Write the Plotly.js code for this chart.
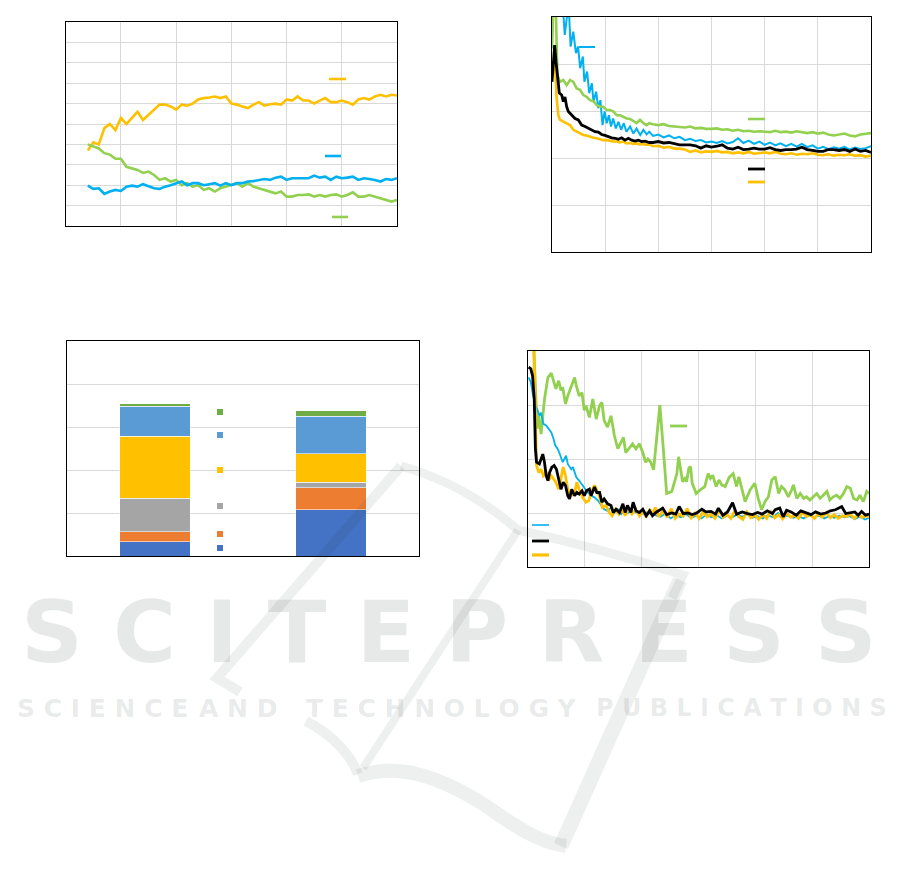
<!DOCTYPE html>
<html>
<head>
<meta charset="utf-8">
<script src="https://cdn.plot.ly/plotly-3.0.1.min.js"></script>
<style>html,body{margin:0;padding:0;background:#fff;}#chart{width:901px;height:892px;}</style>
</head>
<body>
<div id="chart"></div>
<script>
// ---------------- DATA ----------------
// Chart 1 (top-left): three series, sampled from x = 4 to 60
const c1Yellow = [3.7,4.1,4.0,4.8,5.0,4.7,5.3,5.0,5.3,5.6,5.2,5.45,5.7,5.95,5.95,5.86,5.7,5.95,5.9,6.0,6.2,6.27,6.3,6.35,6.27,6.35,6.0,5.95,5.86,5.78,5.95,6.07,5.9,5.97,6.0,5.95,6.2,6.15,6.35,6.15,6.15,6.0,6.15,6.27,6.07,6.07,6.15,6.07,5.95,6.2,6.27,6.2,6.35,6.43,6.35,6.43,6.4];
const c1Green = [4.0,3.9,3.8,3.57,3.5,3.3,3.3,2.9,2.83,2.75,2.6,2.67,2.5,2.26,2.34,2.18,2.26,2.0,2.1,1.93,2.0,1.77,1.85,1.69,1.85,1.93,2.0,2.1,1.93,2.1,1.93,1.85,1.77,1.69,1.6,1.69,1.44,1.44,1.52,1.52,1.55,1.44,1.52,1.44,1.52,1.55,1.44,1.52,1.65,1.44,1.44,1.52,1.44,1.39,1.28,1.2,1.28];
const c1Blue = [1.98,1.82,1.85,1.57,1.69,1.77,1.72,1.93,1.98,1.93,2.05,1.93,1.85,1.82,1.93,2.0,2.1,2.18,2.0,2.1,2.1,2.0,2.05,2.1,1.98,2.1,2.0,2.1,2.1,2.18,2.2,2.26,2.3,2.26,2.37,2.42,2.26,2.34,2.34,2.37,2.34,2.47,2.37,2.42,2.26,2.42,2.34,2.37,2.42,2.26,2.34,2.3,2.26,2.18,2.3,2.26,2.34];

// Chart 2 (top-right)
const c2TailX = [19,20,21,22,23,24,25,26,27,28,29,30,31,32,33,34,35,36,37,38,39,40,41,42,43,44,45,46,47,48,49,50,51,52,53,54,55,56,57,58,59,60];
const c2BlueHeadX = [0,0.2,2.0,2.4,2.8,3.2,3.5,4.0,4.5,4.9,5.3,5.8,6.1,6.6,7.0,7.5,7.8,8.3,8.7,9.1,9.5,9.9,10.3,10.7,11.1,11.5,12.0,12.5,13.0,13.5,14.0,14.7,15.3,15.9,16.6,17.2,17.8,18.3];
const c2BlueHeadY = [4.48,5.3,5.3,4.62,5.0,5.1,4.37,4.69,4.23,4.37,3.91,4.16,3.62,3.84,3.38,3.59,3.2,3.41,3.06,3.23,2.7,2.99,2.74,2.91,2.67,2.84,2.63,2.77,2.6,2.74,2.56,2.67,2.52,2.63,2.49,2.6,2.5,2.56];
const c2BlueTailY = [2.47,2.5,2.44,2.48,2.42,2.45,2.38,2.41,2.36,2.38,2.33,2.35,2.32,2.36,2.31,2.34,2.42,2.32,2.37,2.3,2.35,2.28,2.33,2.27,2.31,2.25,2.3,2.24,2.3,2.23,2.27,2.2,2.24,2.19,2.23,2.2,2.24,2.18,2.22,2.19,2.21,2.25];
const c2GreenHeadX = [0,0.25,0.7,1.0,1.5,2.13,2.76,3.39,4.01,4.64,5.27,5.89,6.52,7.15,7.77,8.4,9.03,9.65,10.28,10.91,11.53,12.16,12.79,13.42,14.04,14.67,15.3,15.92,16.55,17.18,17.81,18.3];
const c2GreenHeadY = [4.33,5.3,5.3,3.77,3.62,3.66,3.55,3.66,3.62,3.48,3.45,3.34,3.3,3.23,3.21,3.13,3.09,3.09,3.02,3.02,2.99,2.91,2.91,2.88,2.84,2.83,2.79,2.74,2.81,2.74,2.7,2.74];
const c2GreenTailY = [2.72,2.7,2.72,2.68,2.67,2.66,2.65,2.67,2.63,2.64,2.62,2.62,2.63,2.6,2.61,2.58,2.6,2.57,2.58,2.56,2.57,2.56,2.55,2.58,2.55,2.56,2.54,2.57,2.55,2.53,2.55,2.52,2.54,2.5,2.48,2.5,2.52,2.48,2.46,2.5,2.52,2.53];
const c2BlackHeadX = [0,0.25,0.5,0.75,1.0,1.38,1.82,2.13,2.44,2.76,3.07,3.7,4.33,4.95,5.58,6.21,6.83,7.46,8.09,8.72,9.34,9.97,10.6,11.22,11.85,12.48,13.1,13.73,14.36,14.98,15.61,16.24,16.86,17.49,18.3];
const c2BlackHeadY = [3.62,3.98,4.4,4.05,3.77,3.38,3.34,3.2,3.3,3.09,2.99,2.91,2.84,2.81,2.7,2.67,2.63,2.6,2.56,2.55,2.5,2.48,2.45,2.43,2.42,2.4,2.43,2.38,2.42,2.38,2.36,2.38,2.35,2.36,2.33];
const c2BlackTailY = [2.33,2.35,2.32,2.33,2.3,2.28,2.28,2.28,2.26,2.21,2.26,2.23,2.25,2.28,2.21,2.19,2.23,2.18,2.19,2.21,2.19,2.19,2.22,2.18,2.16,2.18,2.18,2.19,2.23,2.18,2.16,2.14,2.14,2.18,2.18,2.16,2.18,2.14,2.19,2.14,2.16,2.12];
const c2YellowHeadX = [0,0.25,0.5,0.88,1.19,1.5,2.13,2.76,3.39,4.01,4.64,5.27,5.89,6.52,7.15,7.77,8.4,9.03,9.65,10.28,10.91,11.53,12.16,12.79,13.42,14.04,14.67,15.3,15.92,16.55,17.18,17.81,18.3];
const c2YellowHeadY = [3.84,3.98,4.15,3.27,2.91,2.81,2.77,2.74,2.7,2.6,2.56,2.52,2.49,2.48,2.45,2.43,2.42,2.4,2.38,2.38,2.36,2.35,2.35,2.33,2.35,2.31,2.32,2.3,2.31,2.29,2.3,2.28,2.29];
const c2YellowTailY = [2.25,2.26,2.22,2.24,2.2,2.2,2.18,2.13,2.16,2.12,2.14,2.13,2.15,2.12,2.13,2.1,2.12,2.1,2.13,2.09,2.11,2.12,2.1,2.13,2.09,2.08,2.1,2.07,2.09,2.08,2.1,2.07,2.06,2.08,2.05,2.07,2.06,2.08,2.05,2.06,2.03,2.05];

// Chart 3 (bottom-left): stacked bars, bottom to top
const c3Categories = ['A', 'B'];
const c3Blue      = [0.33, 1.07];
const c3Orange    = [0.23, 0.52];
const c3Gray      = [0.78, 0.12];
const c3Yellow    = [1.44, 0.67];
const c3LightBlue = [0.70, 0.87];
const c3Green     = [0.06, 0.13];

// Chart 4 (bottom-right)
const c4GreenX = [0.9,1.6,1.9,2.3,2.9,3.5,4.1,4.6,4.9,5.4,5.8,6.1,6.6,7.0,7.6,8.2,8.5,9.0,9.5,9.9,10.2,10.8,11.4,12.0,12.6,13.0,13.4,14.0,14.6,15.2,15.8,16.4,16.8,17.2,17.8,18.4,19.0,19.6,20.2,20.7,21.1,21.6,22.1,22.6,23.2,23.8,24.4,25.3,26.2,26.5,26.9,27.2,27.6,27.9,28.3,28.6,28.9,29.6,30.3,31.1,31.7,32.1,32.5,33.1,33.6,34.1,34.7,35.4,36.1,36.7,37.1,37.4,38.2,39.1,39.9,40.5,41.1,41.7,42.3,42.9,43.5,44.1,44.6,45.2,45.8,46.4,46.7,47.3,47.9,48.5,49.0,49.6,50.2,50.8,51.4,51.9,52.6,53.1,53.7,54.3,54.9,55.5,56.1,56.7,57.3,57.9,58.4,59.0,59.6,60.0];
const c4GreenY = [4.4,2.56,2.8,2.46,3.11,3.51,3.59,3.42,3.3,3.45,3.27,3.33,3.02,3.17,3.33,3.51,3.36,3.17,3.23,2.9,2.99,2.77,3.11,2.74,2.99,3.05,2.71,2.59,2.8,2.43,2.19,2.31,2.4,2.12,2.19,2.28,2.19,2.28,2.12,1.94,2.0,1.94,1.8,2.35,3.0,2.2,1.36,1.4,1.73,2.04,1.8,1.58,1.64,1.58,1.83,1.86,1.55,1.36,1.43,1.49,1.73,1.64,1.7,1.49,1.61,1.52,1.49,1.66,1.73,1.49,1.67,1.55,1.21,1.43,1.55,1.27,1.06,1.21,1.3,1.61,1.67,1.36,1.49,1.43,1.3,1.43,1.52,1.27,1.36,1.27,1.3,1.24,1.3,1.36,1.27,1.33,1.4,1.24,1.3,1.33,1.27,1.36,1.49,1.46,1.27,1.24,1.33,1.21,1.4,1.36];
const c4BlueX = [0.1,0.5,0.9,1.3,1.7,2.0,2.3,2.7,3.2,3.6,4.1,4.5,4.8,5.2,5.5,6.1,6.7,7.0,7.6,7.9,8.5,9.0,9.6,10.1,10.5,11.1,11.7,12.3,12.9,13.4,14.0,14.6,15.2,15.8,16.4,17.0,17.5,18.1,19.0,19.9,20.8,21.6,22.4,23.3,24.2,25.1,26.0,26.9,27.8,28.7,29.6,30.5,31.4,32.3,33.2,34.1,35.0,35.9,36.8,37.7,38.6,39.5,40.4,41.3,42.2,43.1,44.0,44.9,45.8,46.7,47.6,48.5,49.4,50.3,51.2,52.1,53.0,53.9,54.8,55.7,56.6,57.5,58.4,59.3,60.0];
const c4BlueY = [3.51,3.42,3.17,2.99,2.9,2.8,2.86,2.65,2.62,2.56,2.49,2.37,2.25,2.19,2.12,1.94,2.06,1.91,1.81,1.85,1.66,1.6,1.51,1.44,1.38,1.32,1.29,1.23,1.14,1.07,1.04,1.1,1.01,1.07,0.98,1.07,1.0,1.04,1.01,0.98,1.01,0.98,0.95,0.93,0.99,0.9,0.96,0.92,0.98,0.91,0.95,0.9,0.97,0.92,0.96,0.9,0.95,0.92,0.97,0.93,0.98,0.91,0.94,0.9,0.96,0.92,1.0,0.93,0.95,0.91,0.94,0.9,0.96,0.92,0.95,0.9,0.94,0.91,0.95,0.92,0.94,0.89,0.93,0.88,0.91];
const c4BlackX = [0.1,0.5,0.8,1.1,1.3,1.5,2.0,2.3,2.6,2.9,3.2,3.5,3.8,4.2,4.6,5.0,5.4,5.8,6.2,6.6,7.0,7.3,7.7,8.2,8.6,9.0,9.5,9.9,10.3,10.8,11.1,11.7,12.1,12.6,13.0,13.4,14.0,14.6,15.0,15.5,16.1,16.7,17.1,17.5,18.1,18.5,19.0,19.6,20.2,20.8,21.4,21.9,22.5,23.7,24.4,25.3,26.0,26.6,27.3,28.1,28.9,29.7,30.6,31.3,32.2,33.0,33.5,34.3,35.1,36.0,36.7,37.7,38.6,39.5,40.4,41.2,42.1,43.0,43.5,44.3,44.9,45.5,46.3,47.2,48.0,48.9,49.8,50.6,51.5,52.4,53.2,54.1,55.2,55.9,56.7,57.5,58.1,58.7,59.4,60.0];
const c4BlackY = [3.7,3.67,3.54,3.11,2.19,1.94,1.91,2.0,2.09,1.94,1.69,1.6,1.75,1.85,1.88,1.81,1.63,1.44,1.57,1.51,1.32,1.26,1.44,1.32,1.38,1.35,1.41,1.32,1.41,1.44,1.32,1.48,1.38,1.38,1.2,1.26,1.17,1.14,1.01,1.07,1.01,1.17,1.01,1.14,1.01,1.2,1.04,1.01,1.07,0.95,1.04,0.95,1.01,1.09,0.97,1.0,0.98,1.12,0.99,1.0,0.97,1.0,1.07,1.02,1.03,0.98,1.09,0.96,1.02,1.19,0.98,1.02,0.99,0.97,1.01,0.98,1.04,0.99,1.06,1.09,0.93,1.05,1.02,0.96,1.04,1.0,0.97,1.02,0.98,1.0,1.04,1.06,1.12,0.99,1.0,1.02,0.96,1.03,0.96,0.98];
const c4YellowX = [0.9,1.3,1.5,1.9,2.3,2.7,3.2,3.6,4.1,4.5,4.9,5.4,5.8,6.2,6.6,7.0,7.6,8.2,8.6,9.0,9.6,10.2,10.7,11.1,11.7,12.3,12.7,13.1,13.7,14.3,14.8,15.4,16.0,16.5,17.1,17.7,18.3,19.0,19.6,20.2,20.8,21.4,21.9,22.4,23.0,23.8,24.5,25.2,25.9,26.6,27.3,28.0,28.7,29.4,30.1,30.8,31.5,32.2,32.9,33.6,34.3,35.0,35.7,36.4,37.1,37.8,38.5,39.2,39.9,40.6,41.3,42.0,42.7,43.4,44.1,44.8,45.5,46.2,46.9,47.6,48.3,49.0,49.7,50.4,51.1,51.8,52.5,53.2,53.9,54.6,55.3,56.0,56.7,57.4,58.1,58.8,59.5,60.0];
const c4YellowY = [4.6,2.49,1.88,1.75,1.81,1.69,1.75,1.6,1.69,1.63,1.57,1.44,1.66,1.85,1.69,1.44,1.32,1.38,1.57,1.44,1.29,1.2,1.23,1.38,1.51,1.38,1.26,1.1,1.14,1.01,0.95,1.07,0.98,1.07,0.95,1.1,0.98,1.07,0.95,1.04,0.92,1.07,0.98,1.1,0.93,1.05,0.92,1.08,0.9,0.98,0.94,1.08,0.91,1.0,0.9,1.02,0.93,0.98,0.9,1.05,0.92,0.97,0.9,1.04,0.93,0.88,1.02,0.91,0.96,0.88,0.97,0.9,1.04,0.91,0.97,0.89,1.0,0.92,0.96,0.9,1.02,0.93,0.97,0.9,0.99,0.92,1.01,0.91,0.97,0.9,0.95,0.93,0.98,0.9,0.97,0.92,0.95,0.93];

// ---------------- STYLE ----------------
const YEL = '#FFC000', GRN = '#92D050', BLU = '#00B0F0', BLK = '#000000';
const W = 901, H = 892;
const px = x => x / W;
const py = y => 1 - y / H;

const traces = [
  {x0: 4, dx: 1, y: c1Yellow, xaxis: 'x', yaxis: 'y', type: 'scatter', mode: 'lines', line: {color: YEL, width: 2.6}},
  {x0: 4, dx: 1, y: c1Green, xaxis: 'x', yaxis: 'y', type: 'scatter', mode: 'lines', line: {color: GRN, width: 2.6}},
  {x0: 4, dx: 1, y: c1Blue, xaxis: 'x', yaxis: 'y', type: 'scatter', mode: 'lines', line: {color: BLU, width: 2.6}},

  {x: c2BlueHeadX.concat(c2TailX), y: c2BlueHeadY.concat(c2BlueTailY), xaxis: 'x2', yaxis: 'y2', type: 'scatter', mode: 'lines', line: {color: BLU, width: 2}},
  {x: c2GreenHeadX.concat(c2TailX), y: c2GreenHeadY.concat(c2GreenTailY), xaxis: 'x2', yaxis: 'y2', type: 'scatter', mode: 'lines', line: {color: GRN, width: 2.6}},
  {x: c2YellowHeadX.concat(c2TailX), y: c2YellowHeadY.concat(c2YellowTailY), xaxis: 'x2', yaxis: 'y2', type: 'scatter', mode: 'lines', line: {color: YEL, width: 2.6}},
  {x: c2BlackHeadX.concat(c2TailX), y: c2BlackHeadY.concat(c2BlackTailY), xaxis: 'x2', yaxis: 'y2', type: 'scatter', mode: 'lines', line: {color: BLK, width: 2.8}},
];

const barSeries = [
  [c3Blue, '#4472C4'], [c3Orange, '#ED7D31'], [c3Gray, '#A5A5A5'],
  [c3Yellow, '#FFC000'], [c3LightBlue, '#5B9BD5'], [c3Green, '#70AD47']
];
barSeries.forEach(([vals, col]) => traces.push({
  type: 'bar', x: c3Categories, y: vals, xaxis: 'x3', yaxis: 'y3', width: 0.4,
  marker: {color: col, line: {color: 'rgba(255,255,255,0.7)', width: 0.8}}
}));

traces.push(
  {x: c4GreenX, y: c4GreenY, xaxis: 'x4', yaxis: 'y4', type: 'scatter', mode: 'lines', line: {color: GRN, width: 2.8}},
  {x: c4BlueX, y: c4BlueY, xaxis: 'x4', yaxis: 'y4', type: 'scatter', mode: 'lines', line: {color: BLU, width: 1.8}},
  {x: c4YellowX, y: c4YellowY, xaxis: 'x4', yaxis: 'y4', type: 'scatter', mode: 'lines', line: {color: YEL, width: 2.8}},
  {x: c4BlackX, y: c4BlackY, xaxis: 'x4', yaxis: 'y4', type: 'scatter', mode: 'lines', line: {color: BLK, width: 2.8}}
);

function ax(extra) {
  return Object.assign({
    showgrid: true, gridcolor: '#d9d9d9', gridwidth: 1, zeroline: false,
    showticklabels: false, ticks: '', showline: true, mirror: true,
    linecolor: '#000', linewidth: 1.2, fixedrange: true
  }, extra);
}

function seg(x1, y1, x2, y2, color, width) {
  return {type: 'line', xref: 'paper', yref: 'paper', x0: px(x1), y0: py(y1), x1: px(x2), y1: py(y2), line: {color: color, width: width}};
}
function sq(cx, cy, s, color) {
  return {type: 'rect', xref: 'paper', yref: 'paper', x0: px(cx - s / 2), x1: px(cx + s / 2), y0: py(cy + s / 2), y1: py(cy - s / 2), fillcolor: color, line: {width: 0}};
}
function wpath(cmds, width) {
  const d = cmds.map(c => {
    const nums = c.slice(1);
    const parts = [];
    for (let i = 0; i < nums.length; i += 2) parts.push(px(nums[i]).toFixed(5) + ',' + py(nums[i + 1]).toFixed(5));
    return c[0] + parts.join(' ');
  }).join(' ');
  return {type: 'path', xref: 'paper', yref: 'paper', path: d, layer: 'above', opacity: 0.075,
    line: {color: '#2a3a35', width: width}, fillcolor: 'rgba(0,0,0,0)'};
}

const shapes = [
  // chart 1 legend keys
  seg(329, 79, 346, 79, YEL, 2.6), seg(325, 156, 341, 156, BLU, 2.6), seg(332, 217, 348, 217, GRN, 2.6),
  // chart 2 legend keys
  seg(579, 47, 595, 47, BLU, 2), seg(748, 119, 765, 119, GRN, 2.6), seg(748, 169, 765, 169, BLK, 2.8), seg(748, 182, 765, 182, YEL, 2.8),
  // chart 3 legend keys
  sq(220, 412, 6, '#70AD47'), sq(220, 435, 6, '#5B9BD5'), sq(220, 470, 6, '#FFC000'),
  sq(220, 506, 6, '#A5A5A5'), sq(220, 534, 6, '#ED7D31'), sq(220, 548, 6, '#4472C4'),
  // chart 4 legend keys
  seg(670, 426, 687, 426, GRN, 2.8), seg(532, 525, 549, 525, BLU, 1.6), seg(532, 541, 549, 541, BLK, 2.8), seg(532, 555, 549, 555, YEL, 3.2),
  // watermark logo strokes
  wpath([['M', 401, 466], ['L', 217, 678], ['L', 240, 692]], 10),
  wpath([['M', 401, 466], ['Q', 465, 484, 518, 530], ['Q', 600, 548, 683, 575], ['L', 672, 598]], 9),
  wpath([['M', 518, 530], ['L', 363, 768]], 8),
  wpath([['M', 680, 580], ['L', 561, 846]], 15),
  wpath([['M', 306, 721], ['Q', 345, 742, 358, 774]], 10),
  wpath([['M', 358, 776], ['C', 400, 762, 440, 778, 480, 802], ['C', 510, 822, 535, 842, 566, 846]], 14)
];

const wmColor = 'rgba(40,55,50,0.11)';
const sp = s => s.split('').join(' ');
const annotations = [
  {text: sp('SCITEPRESS'), xref: 'paper', yref: 'paper', x: px(449), y: py(632), xanchor: 'center', yanchor: 'middle',
   showarrow: false, font: {family: 'DejaVu Sans', size: 86, weight: 700, color: wmColor}},
  {text: sp('SCIENCE'), xref: 'paper', yref: 'paper', x: px(102), y: py(708), xanchor: 'center', yanchor: 'middle',
   showarrow: false, font: {family: 'DejaVu Sans', size: 25, weight: 700, color: wmColor}},
  {text: sp('AND'), xref: 'paper', yref: 'paper', x: px(238), y: py(708), xanchor: 'center', yanchor: 'middle',
   showarrow: false, font: {family: 'DejaVu Sans', size: 25, weight: 700, color: wmColor}},
  {text: sp('TECHNOLOGY'), xref: 'paper', yref: 'paper', x: px(441), y: py(708), xanchor: 'center', yanchor: 'middle',
   showarrow: false, font: {family: 'DejaVu Sans', size: 25, weight: 700, color: wmColor}},
  {text: sp('PUBLICATIONS'), xref: 'paper', yref: 'paper', x: px(741), y: py(708), xanchor: 'center', yanchor: 'middle',
   showarrow: false, font: {family: 'DejaVu Sans', size: 24, weight: 700, color: wmColor}}
];

const layout = {
  width: W, height: H, margin: {l: 0, r: 0, t: 0, b: 0, pad: 0},
  paper_bgcolor: '#fff', plot_bgcolor: '#fff', showlegend: false, barmode: 'stack',
  xaxis:  ax({domain: [px(65.7), px(397)], range: [0, 60], dtick: 10, anchor: 'y'}),
  yaxis:  ax({domain: [py(226), py(22)], range: [0, 10], dtick: 1, anchor: 'x'}),
  xaxis2: ax({domain: [px(552), px(871)], range: [0, 60], dtick: 10, anchor: 'y2'}),
  yaxis2: ax({domain: [py(252), py(17)], range: [0, 5], dtick: 1, anchor: 'x2'}),
  xaxis3: ax({domain: [px(67), px(419)], type: 'category', range: [-0.5, 1.5], showgrid: false, anchor: 'y3'}),
  yaxis3: ax({domain: [py(556), py(341)], range: [0, 5], dtick: 1, anchor: 'x3'}),
  xaxis4: ax({domain: [px(528), px(869)], range: [0, 60], dtick: 10, anchor: 'y4'}),
  yaxis4: ax({domain: [py(567), py(351)], range: [0, 4], dtick: 1, anchor: 'x4'}),
  shapes: shapes,
  annotations: annotations
};

Plotly.newPlot('chart', traces, layout, {displayModeBar: false, staticPlot: true});
</script>
</body>
</html>
